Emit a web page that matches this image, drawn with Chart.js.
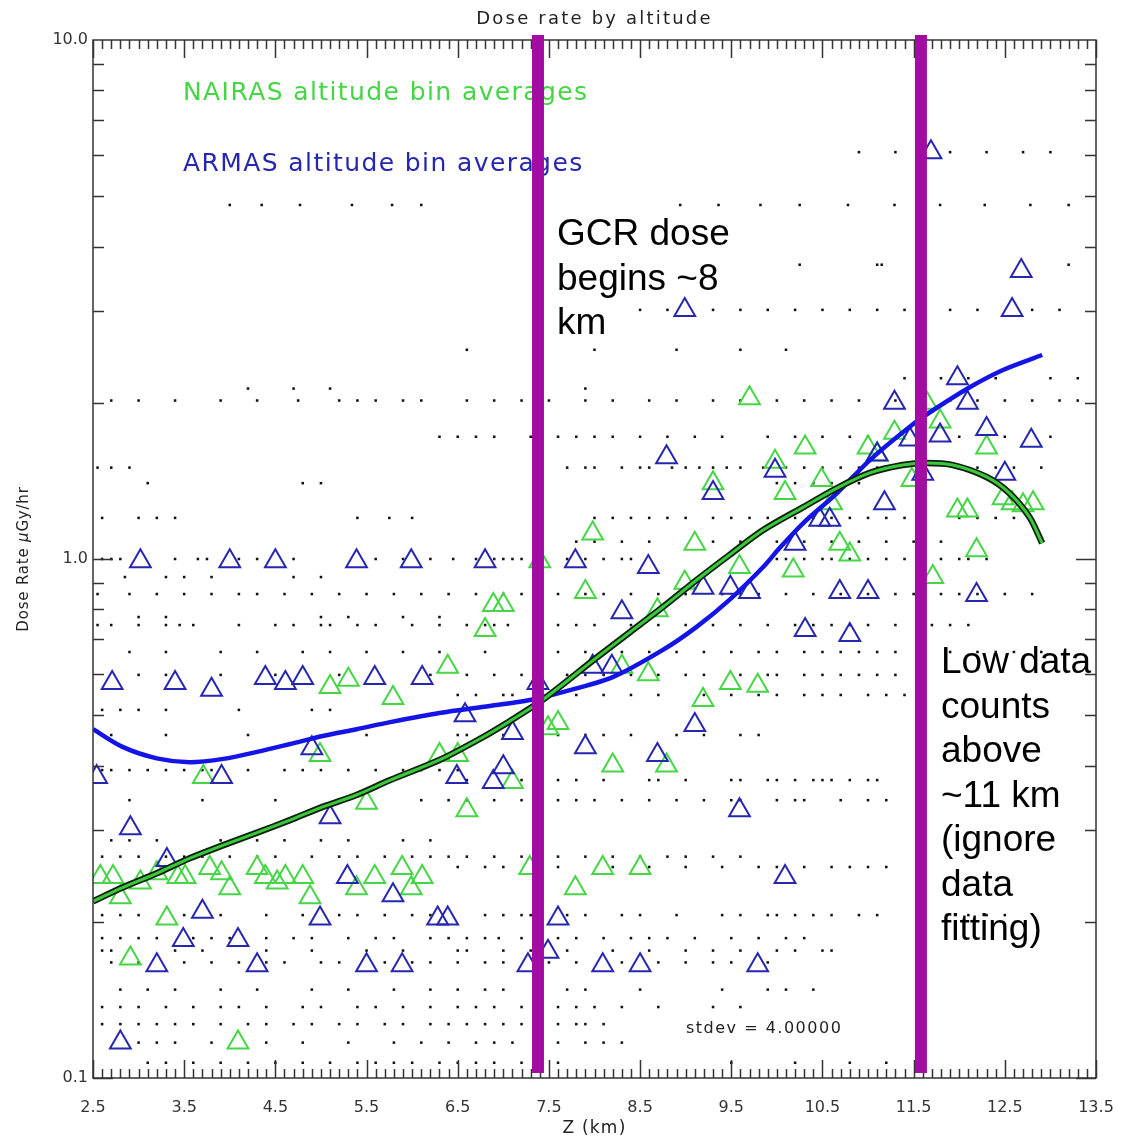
<!DOCTYPE html>
<html lang="en">
<head>
<meta charset="UTF-8">
<title>Dose rate by altitude</title>
<style>
    body {
        margin: 0;
        background: #fff;
    }
    #wrap {
        width: 1130px;
        height: 1138px;
    }
</style>
</head>
<body>
<div id="wrap"><canvas id="doseChart" width="1130" height="1138"></canvas></div>
<script src="https://cdn.jsdelivr.net/npm/chart.js"></script>
<script>
// axis ticks
const xTicks = [2.5, 3.5, 4.5, 5.5, 6.5, 7.5, 8.5, 9.5, 10.5, 11.5, 12.5, 13.5];
const yTicks = [0.1, 1, 10];

// NAIRAS altitude bin averages (green triangles)
const nairasAlt = [9.70, 7.98, 9.10, 9.59, 7.40, 6.89, 7.00, 6.80, 6.39, 7.90, 8.99, 8.69, 8.30, 8.59, 9.49, 9.79, 9.19,
    7.60, 7.49, 6.30, 6.50, 8.20, 8.79, 7.10, 6.60, 7.29, 8.09, 8.50, 7.79, 5.10, 5.30, 5.79, 4.99, 3.71, 5.50,
    2.58, 2.72, 2.80, 3.02, 3.20, 3.43, 3.51, 3.78, 3.91, 4.00, 4.30, 4.39, 4.52, 4.61, 4.80, 4.88, 5.39, 5.59,
    5.89, 5.99, 6.11, 3.31, 2.91, 4.09, 10.31, 9.98, 9.30, 11.00, 11.29, 11.10, 10.49, 10.09, 10.60, 11.48,
    10.69, 10.80, 10.18, 11.79, 11.64, 12.30, 11.98, 12.09, 12.48, 12.58, 12.70, 12.81, 12.19, 11.71];
const nairasDose = [2.04, 1.12, 1.07, 0.965, 0.99, 0.815, 0.815, 0.73, 0.62, 0.864, 0.90, 0.797, 0.62, 0.60, 0.577, 0.57, 0.535,
    0.483, 0.472, 0.419, 0.419, 0.40, 0.40, 0.372, 0.328, 0.254, 0.254, 0.254, 0.232, 0.567, 0.585, 0.54, 0.419, 0.38, 0.339,
    0.244, 0.244, 0.223, 0.238, 0.248, 0.244, 0.244, 0.254, 0.248, 0.232, 0.254, 0.244, 0.238, 0.244, 0.244, 0.223, 0.232, 0.244,
    0.254, 0.232, 0.244, 0.203, 0.170, 0.117, 1.64, 1.54, 1.40, 1.64, 1.75, 1.59, 1.42, 1.34, 1.28, 1.42,
    1.07, 1.02, 0.95, 1.84, 2.00, 1.64, 1.24, 1.24, 1.31, 1.28, 1.27, 1.28, 1.04, 0.923];

// ARMAS altitude bin averages (blue triangles)
const armasAlt = [3.02, 4.00, 4.50, 5.39, 5.99, 6.80, 7.79, 8.59, 8.99, 11.69, 12.68, 12.58, 11.98, 11.29, 12.09, 12.30,
    12.79, 8.79, 9.98, 11.79, 11.46, 11.10, 12.50, 11.60, 11.18, 10.47, 10.58, 10.20, 10.69, 11.00, 12.19, 10.31,
    10.80, 9.30, 9.19, 9.49, 9.70, 8.30, 7.98, 8.19, 7.38, 6.58, 2.71, 3.40, 3.80, 4.39, 4.61, 4.80, 5.59, 6.11,
    7.10, 9.10, 7.90, 8.69, 6.49, 6.89, 7.00, 9.59, 6.28, 6.39, 7.60, 7.49, 7.27, 8.09, 8.50, 9.79, 10.09,
    2.54, 3.91, 4.90, 2.91, 5.10, 3.31, 5.29, 5.79, 3.70, 4.99, 3.49, 4.09, 3.20, 4.30, 5.50, 5.89, 2.80];
const armasDose = [0.99, 0.99, 0.99, 0.99, 0.99, 0.99, 0.99, 0.965, 3.02, 6.08, 3.59, 3.02, 2.23, 2.00, 2.00, 1.78,
    1.69, 1.57, 1.48, 1.73, 1.70, 1.59, 1.46, 1.46, 1.28, 1.19, 1.19, 1.07, 0.864, 0.864, 0.852, 0.73,
    0.714, 1.34, 0.88, 0.88, 0.864, 0.79, 0.62, 0.62, 0.577, 0.50, 0.577, 0.577, 0.56, 0.59, 0.577, 0.59, 0.59, 0.59,
    0.462, 0.479, 0.434, 0.419, 0.38, 0.372, 0.397, 0.328, 0.203, 0.203, 0.203, 0.175, 0.165, 0.165, 0.165, 0.165, 0.244,
    0.38, 0.38, 0.432, 0.303, 0.318, 0.263, 0.244, 0.225, 0.209, 0.203, 0.1845, 0.1845, 0.165, 0.165, 0.165, 0.165, 0.117];

// fitted curves
const armasFitAlt = [2.50, 2.83, 3.20, 3.56, 3.93, 4.30, 4.66, 5.02, 5.39, 5.76, 6.30, 6.85, 7.29, 7.65, 8.20, 8.75,
    9.12, 9.48, 9.85, 10.03, 10.29, 10.66, 11.02, 11.51, 11.75, 12.12, 12.48, 12.91];
const armasFitDose = [0.470, 0.434, 0.413, 0.406, 0.412, 0.425, 0.440, 0.456, 0.470, 0.485, 0.505, 0.521, 0.535, 0.554, 0.592, 0.668,
    0.740, 0.834, 0.965, 1.05, 1.173, 1.340, 1.551, 1.828, 1.954, 2.145, 2.313, 2.472];
const nairasFitAlt = [2.50, 2.83, 3.20, 3.56, 3.93, 4.30, 4.66, 5.02, 5.39, 5.76, 6.30, 6.74, 7.07, 7.43, 8.03, 8.39,
    8.75, 9.12, 9.48, 9.85, 10.29, 10.66, 11.02, 11.38, 11.64, 11.93, 12.30, 12.55, 12.77, 12.91];
const nairasFitDose = [0.219, 0.233, 0.248, 0.265, 0.281, 0.297, 0.314, 0.333, 0.351, 0.375, 0.410, 0.450, 0.487, 0.535, 0.647, 0.723,
    0.808, 0.911, 1.018, 1.137, 1.259, 1.370, 1.465, 1.517, 1.531, 1.517, 1.439, 1.340, 1.205, 1.073];

// raw samples: dose level of each row and the altitudes where a sample sits on it
const rawDose = [6.08, 4.81, 3.69, 3.02, 2.53, 2.23, 2.13, 2.02, 1.72, 1.50, 1.40, 1.20, 1.08, 1.00, 0.923, 0.856, 0.773,
    0.746, 0.662, 0.598, 0.547, 0.512, 0.458, 0.392, 0.375, 0.343, 0.287, 0.267, 0.255, 0.206, 0.186, 0.176, 0.167,
    0.148, 0.137, 0.127, 0.117, 0.107];
const rawAlt = [
    [10.9, 11.3, 11.9, 12.3, 12.7, 13.0],
    [4.0, 4.35, 4.77, 5.34, 5.78, 6.1, 8.94, 9.36, 9.82, 10.25, 10.78, 11.29, 11.79, 12.28, 12.78, 13.2],
    [10.25, 11.1, 11.15, 13.2],
    [8.5, 8.8, 9.3, 9.6, 9.9, 10.2, 10.5, 10.8, 11.1, 11.4, 11.9, 12.2, 12.8, 13.1],
    [6.6, 8.0, 8.9, 9.6, 10.1],
    [11.4, 11.6, 11.8, 12.1, 12.4, 13.0, 13.3],
    [4.2, 4.7, 5.1, 7.9],
    [2.7, 3.0, 3.4, 3.9, 4.3, 4.75, 5.2, 5.4, 5.6, 5.9, 6.1, 6.6, 6.9, 7.2, 7.5, 7.9, 8.2, 8.6, 8.9, 9.3, 9.6, 10.0,
        10.3, 10.6, 10.9, 11.3, 11.6, 11.9, 12.2, 12.5, 12.8, 13.1, 13.3],
    [6.3, 6.5, 6.7, 6.9, 7.3, 7.6, 7.8, 8.0, 8.2, 8.5, 8.8, 9.1, 9.4, 9.9, 10.2, 10.5, 10.8, 11.0, 12.0, 12.5, 13.0],
    [2.55, 2.7, 2.9, 7.7, 7.9, 8.0, 8.3, 8.5, 8.6, 8.85, 9.0, 9.15, 9.3, 9.45, 9.6, 9.85, 10.1, 10.3, 10.5, 10.7,
        10.9, 11.1, 11.3, 12.0, 12.2, 12.4, 12.6, 12.9],
    [3.1, 4.8, 5.0, 10.0, 10.2, 10.4, 10.6, 10.9],
    [2.6, 3.0, 3.2, 3.4, 5.4, 5.75, 6.0, 8.0, 8.2, 8.4, 8.6, 8.8, 9.0, 9.3, 9.5, 9.7, 9.9, 10.2, 10.4, 10.6, 10.8,
        11.0, 11.2, 11.4, 12.0, 12.2, 12.4, 12.6],
    [7.8, 8.0, 8.3, 8.6, 9.3, 9.6, 10.0, 10.3, 10.6, 10.9, 11.2, 11.5, 11.8],
    [2.6, 2.7, 2.8, 3.4, 3.65, 3.75, 4.1, 4.3, 4.7, 5.6, 5.9, 6.2, 6.45, 6.7, 6.9, 7.0, 7.1, 7.2, 7.7, 7.9, 8.1, 8.3,
        8.4, 10.0, 10.1, 10.3, 10.5, 10.6, 10.8, 11.0, 11.2, 11.4, 11.6, 11.8, 12.0, 12.1, 12.3],
    [2.85, 3.3, 3.5, 3.8, 4.7, 5.0],
    [2.55, 2.9, 3.2, 3.5, 3.8, 4.1, 4.3, 4.6, 4.9, 5.2, 5.5, 5.8, 6.1, 6.4, 6.7, 7.0, 7.2, 7.6, 7.9, 8.1, 8.4, 8.7,
        9.0, 9.4, 9.8, 10.1, 10.4, 10.7, 11.0, 11.3, 11.5, 11.8, 12.0, 12.2, 12.5, 12.8],
    [3.0, 3.3, 5.0, 5.3, 5.9, 6.3],
    [2.55, 2.7, 3.0, 3.3, 3.45, 3.6, 4.1, 4.5, 4.7, 5.0, 5.1, 5.4, 5.6, 6.0, 6.3, 6.6, 6.8, 6.9, 7.05, 7.6, 7.8, 8.0,
        8.4, 8.7, 9.0, 9.3, 9.6, 9.9, 10.2, 10.4, 10.6, 10.8, 11.0, 11.3, 11.7, 11.9, 12.1],
    [2.9, 3.3, 3.9, 4.3, 4.8, 5.1, 5.5, 5.9, 6.3, 6.8, 7.6, 7.9, 8.1, 8.3, 8.6, 8.9, 9.2, 9.5, 9.8, 10.0, 10.3, 10.5,
        10.7, 10.9, 11.1, 11.3, 11.6, 11.9, 12.2, 12.4, 12.6, 12.9],
    [3.0, 3.3, 3.9, 4.5, 5.2, 6.2, 6.6, 6.9, 7.2, 7.7, 7.9, 8.1, 8.4, 8.7, 9.0, 9.2, 9.6, 9.9, 10.0, 10.3, 10.5, 10.7,
        10.9, 11.1, 11.3, 11.6],
    [6.5, 6.7, 7.0, 7.1, 7.8, 8.1, 8.4, 8.7, 9.2, 9.5, 9.8, 10.0, 10.3, 10.5, 10.7, 11.0, 11.2, 11.4],
    [2.6, 2.8, 3.0, 3.3, 4.1, 4.9, 5.1],
    [2.7, 3.3, 4.2, 5.5, 6.5, 6.6, 6.8, 7.0, 7.6, 7.9, 8.1, 8.4, 8.9, 9.2, 9.6, 9.8],
    [2.6, 2.7, 2.9, 3.1, 3.3, 3.5, 3.7, 3.8, 4.2, 4.6, 4.8, 5.0, 5.3, 5.6, 5.9, 6.1, 6.3, 6.5],
    [6.6, 7.2, 7.6, 7.8, 8.1, 8.6, 8.7, 9.0, 9.5, 9.6, 9.9, 10.0, 10.2, 10.4, 10.5, 10.6, 10.8, 11.0, 11.1],
    [2.9, 3.7, 4.5, 5.2, 6.1, 6.4, 6.6, 6.9, 7.2, 7.4, 7.6, 7.8, 8.0, 8.3, 8.6, 8.9, 9.2, 9.5, 9.6, 10.0, 10.2, 10.3,
        10.7, 11.0, 11.2],
    [2.7, 2.9, 3.2, 3.9, 4.3, 4.6, 5.0, 5.3, 5.9, 6.2],
    [2.6, 2.8, 3.0, 3.3, 3.5, 3.7, 4.0, 4.3, 4.5, 4.9, 5.2, 5.4, 5.7, 6.0, 6.2, 6.4, 6.6, 6.9, 7.2, 7.4, 7.6, 7.9,
        8.2, 8.5, 8.8, 9.0, 9.3, 9.6],
    [6.5, 6.8, 7.0, 7.6, 8.2, 8.6, 9.0, 9.4, 9.8, 10.0, 10.3, 10.6, 10.8, 11.0, 11.2],
    [2.6, 2.8, 3.0, 3.5, 3.9, 4.4, 4.8, 5.2, 5.4, 5.7, 6.0, 6.2, 6.8, 7.0, 7.2, 7.3, 7.7, 7.9, 8.3, 8.5, 8.9, 9.4,
        9.6, 9.9, 10.0, 10.2, 10.4, 10.6, 10.9, 11.1, 12.1, 12.3, 12.5],
    [2.6, 2.8, 3.0, 3.2, 3.6, 3.8, 4.0, 4.4, 4.7, 4.9, 5.3, 5.6, 5.8, 6.2, 6.4, 6.6, 6.8, 6.95, 7.2, 7.6, 7.8, 8.1,
        8.4, 8.6, 8.8, 9.1, 9.5, 9.8, 10.1, 10.3],
    [2.6, 2.7, 3.4, 3.7, 4.4, 4.9, 5.5, 5.9, 6.5, 6.6, 7.0, 7.3, 7.7, 8.2, 8.6, 9.0, 9.3, 9.6, 10.0, 10.2, 10.5, 10.6],
    [2.7, 3.0, 3.5, 3.8, 4.1, 4.4, 4.6, 5.0, 5.2, 5.7, 6.0, 6.2, 6.5, 6.8, 7.0, 7.5, 7.8, 8.3, 8.7, 9.0, 9.3, 9.5, 9.9],
    [2.8, 3.1, 3.4, 3.9, 4.3, 4.9, 5.3, 5.8, 6.2, 6.5, 6.8, 7.0, 7.7, 7.9, 8.5, 9.4, 9.9, 10.1, 10.4],
    [2.6, 2.8, 3.0, 3.3, 3.6, 3.9, 4.1, 4.4, 4.8, 5.0, 5.4, 5.6, 5.9, 6.2, 6.5, 6.7, 6.9, 7.2, 7.6, 7.8, 8.0, 8.3,
        8.7, 9.3, 9.6],
    [2.6, 2.8, 3.0, 3.2, 3.4, 3.6, 3.9, 4.2, 4.4, 4.7, 4.9, 5.2, 5.4, 5.7, 5.9, 6.2, 6.4, 6.6, 6.8, 7.0, 7.2, 7.4,
        7.6, 7.8, 7.9, 8.1],
    [3.0, 3.2, 3.4, 3.8, 4.4, 4.8, 5.3, 5.8, 6.1, 6.4, 6.7, 6.9, 7.1, 7.6, 7.9, 8.1, 8.3],
    [3.1, 3.3, 3.6, 3.9, 4.2, 4.5, 4.8, 5.1, 5.4, 5.6, 5.8, 6.0, 6.3, 6.5, 6.7, 6.9, 7.2, 7.6, 9.5, 10.2, 10.8, 11.2]
];

// altitudes of the two marker bars
const markerAlt = [7.38, 11.58];

const toPoints = (xs, ys) => xs.map((v, i) => ({ x: v, y: ys[i] }));
const rawPoints = [];
rawDose.forEach((d, i) => rawAlt[i].forEach(z => rawPoints.push({ x: z, y: d })));

const greenTri = '#45d645';
const blueTri = '#2626b0';
const textFont = '"DejaVu Sans"';

// everything drawn on top of the datasets
const decor = {
    id: 'decor',
    afterDatasetsDraw(chart) {
        const { ctx, chartArea: a, scales: { x, y } } = chart;
        ctx.save();

        // frame and inward ticks on all four sides
        ctx.strokeStyle = '#333';
        ctx.lineWidth = 1.5;
        ctx.strokeRect(a.left, a.top, a.right - a.left, a.bottom - a.top);
        ctx.beginPath();
        for (let i = 0; i <= 110; i++) {
            const px = Math.round(x.getPixelForValue(2.5 + i / 10)) + 0.5;
            const len = i % 10 === 0 ? 18 : 9;
            ctx.moveTo(px, a.bottom); ctx.lineTo(px, a.bottom - len);
            ctx.moveTo(px, a.top); ctx.lineTo(px, a.top + len);
        }
        [0.1, 1].forEach(dec => {
            for (let m = 1; m <= 9; m++) {
                const py = Math.round(y.getPixelForValue(dec * m)) + 0.5;
                const len = m === 1 ? 20 : 11;
                ctx.moveTo(a.left, py); ctx.lineTo(a.left + len, py);
                ctx.moveTo(a.right, py); ctx.lineTo(a.right - len, py);
            }
        });
        ctx.stroke();

        // legend text
        ctx.letterSpacing = '1.4px';
        ctx.font = '25px ' + textFont;
        ctx.textAlign = 'left';
        ctx.textBaseline = 'alphabetic';
        ctx.fillStyle = greenTri;
        ctx.fillText('NAIRAS altitude bin averages', 183, 100);
        ctx.fillStyle = blueTri;
        ctx.fillText('ARMAS altitude bin averages', 183, 171);

        // stdev note
        ctx.letterSpacing = '1.5px';
        ctx.font = '16px ' + textFont;
        ctx.fillStyle = '#222';
        ctx.fillText('stdev = 4.00000', 686, 1033);

        // title and axis titles
        ctx.letterSpacing = '2.2px';
        ctx.font = '18px ' + textFont;
        ctx.textAlign = 'center';
        ctx.fillText('Dose rate by altitude', (a.left + a.right) / 2, 24);
        ctx.letterSpacing = '1.2px';
        ctx.font = '17px ' + textFont;
        ctx.fillText('Z (km)', (a.left + a.right) / 2, 1133);

        ctx.save();
        ctx.translate(28, (a.top + a.bottom) / 2);
        ctx.rotate(-Math.PI / 2);
        ctx.letterSpacing = '0.8px';
        const parts = [['Dose Rate ', '15px ' + textFont], ['\u03bc', 'italic 15px ' + textFont], ['Gy/hr', '15px ' + textFont]];
        let total = 0;
        parts.forEach(p => { ctx.font = p[1]; total += ctx.measureText(p[0]).width; });
        let cx = -total / 2;
        ctx.textAlign = 'left';
        parts.forEach(p => { ctx.font = p[1]; ctx.fillText(p[0], cx, 0); cx += ctx.measureText(p[0]).width; });
        ctx.restore();

        // purple marker bars
        ctx.fillStyle = '#a30ca3';
        markerAlt.forEach(v => {
            const px = x.getPixelForValue(v);
            ctx.fillRect(px - 6, a.top - 5, 12, a.bottom - a.top);
        });

        // annotations
        ctx.letterSpacing = '0px';
        ctx.font = '37px "Liberation Sans", Arial, sans-serif';
        ctx.fillStyle = '#000';
        ctx.textAlign = 'left';
        ['GCR dose', 'begins ~8', 'km'].forEach((t, i) => ctx.fillText(t, 557, 245 + i * 44.5));
        ['Low data', 'counts', 'above', '~11 km', '(ignore', 'data', 'fitting)']
            .forEach((t, i) => ctx.fillText(t, 941, 673 + i * 44.5));

        ctx.restore();
    }
};

const ctxDose = document.getElementById('doseChart').getContext('2d');
const doseChart = new Chart(ctxDose, {
    type: 'scatter',
    data: {
        datasets: [
            {
                label: 'NAIRAS fit',
                data: toPoints(nairasFitAlt, nairasFitDose),
                showLine: true,
                borderColor: '#3cc83c',
                borderWidth: 3,
                pointRadius: 0,
                tension: 0.3,
                order: 1
            },
            {
                label: 'NAIRAS fit outline',
                data: toPoints(nairasFitAlt, nairasFitDose),
                showLine: true,
                borderColor: '#0c220c',
                borderWidth: 6.5,
                pointRadius: 0,
                tension: 0.3,
                order: 2
            },
            {
                label: 'ARMAS fit',
                data: toPoints(armasFitAlt, armasFitDose),
                showLine: true,
                borderColor: '#1414e6',
                borderWidth: 4.5,
                pointRadius: 0,
                tension: 0.3,
                order: 3
            },
            {
                label: 'ARMAS altitude bin averages',
                data: toPoints(armasAlt, armasDose),
                pointStyle: 'triangle',
                pointRadius: 12,
                borderColor: blueTri,
                backgroundColor: 'rgba(0,0,0,0)',
                borderWidth: 2,
                order: 4
            },
            {
                label: 'NAIRAS altitude bin averages',
                data: toPoints(nairasAlt, nairasDose),
                pointStyle: 'triangle',
                pointRadius: 12,
                borderColor: greenTri,
                backgroundColor: 'rgba(0,0,0,0)',
                borderWidth: 2,
                order: 5
            },
            {
                label: 'raw samples',
                data: rawPoints,
                pointStyle: 'rect',
                pointRadius: 1.8,
                borderWidth: 0,
                backgroundColor: '#111',
                order: 6
            }
        ]
    },
    options: {
        responsive: false,
        animation: false,
        layout: { padding: { top: 40, right: 34, left: 0, bottom: 0 } },
        plugins: {
            legend: { display: false },
            tooltip: { enabled: false }
        },
        scales: {
            x: {
                type: 'linear',
                min: 2.5,
                max: 13.5,
                grid: { display: false, drawTicks: false },
                border: { display: false },
                afterBuildTicks: s => { s.ticks = xTicks.map(v => ({ value: v })); },
                afterFit: s => { s.height = 60; s.paddingLeft = 0; s.paddingRight = 0; },
                ticks: {
                    padding: 20,
                    autoSkip: false,
                    maxRotation: 0,
                    color: '#333',
                    font: { family: 'DejaVu Sans', size: 16 },
                    callback: v => Number(v).toFixed(1)
                }
            },
            y: {
                type: 'logarithmic',
                min: 0.1,
                max: 10,
                grid: { display: false, drawTicks: false },
                border: { display: false },
                afterBuildTicks: s => { s.ticks = yTicks.map(v => ({ value: v })); },
                afterFit: s => { s.width = 93; s.paddingTop = 0; s.paddingBottom = 0; },
                ticks: {
                    padding: 5,
                    autoSkip: false,
                    color: '#333',
                    font: { family: 'DejaVu Sans', size: 16 },
                    callback: v => Number(v).toFixed(1)
                }
            }
        }
    },
    plugins: [decor]
});
</script>
</body>
</html>
